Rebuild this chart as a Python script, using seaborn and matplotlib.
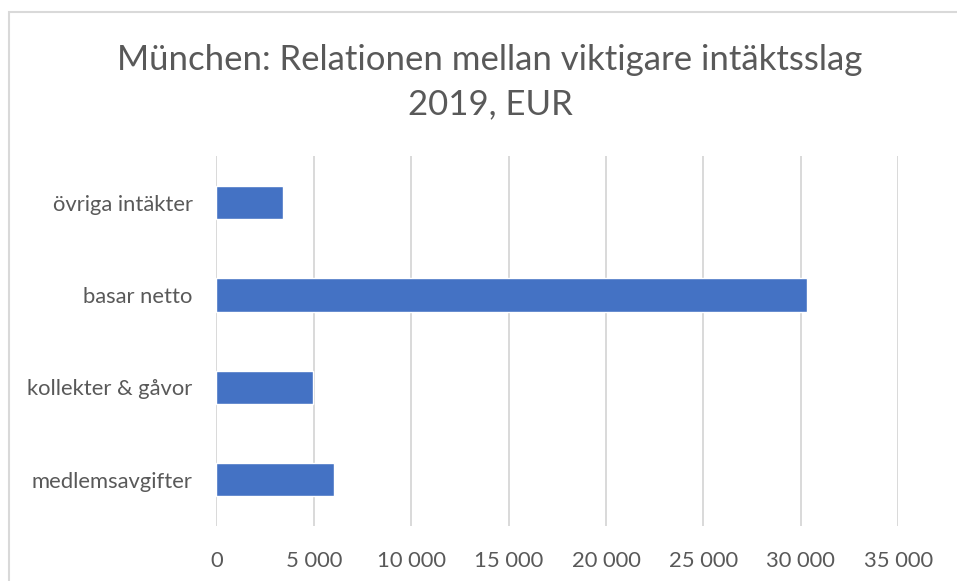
import numpy as np
import pandas as pd
from matplotlib import pyplot as plt
from matplotlib.patches import Rectangle
from matplotlib.ticker import FuncFormatter
import seaborn as sns

categories = ['övriga intäkter', 'basar netto', 'kollekter & gåvor', 'medlemsavgifter']
values = [3410, 30320, 4960, 6040]
x_ticks = [0, 5000, 10000, 15000, 20000, 25000, 30000, 35000]

df = pd.DataFrame({'Intäktsslag': categories, 'EUR': values})

sns.set_style('white')
plt.rcParams['font.family'] = ['Lato', 'DejaVu Sans']

fig = plt.figure(figsize=(9.57, 5.81), dpi=100)
ax = fig.add_axes([0.226, 0.0947, 0.7127, 0.636])

sns.barplot(data=df, y='Intäktsslag', x='EUR', color='#4472c4', saturation=1,
            width=0.36, ax=ax, zorder=3)

ax.set_xlim(0, 35000)
ax.set_xticks(x_ticks)
ax.xaxis.set_major_formatter(FuncFormatter(lambda v, p: f'{int(v):,}'.replace(',', ' ')))
ax.grid(axis='x', color='#d9d9d9', linewidth=1.4, zorder=0)
ax.set_axisbelow(True)
for s in ax.spines.values():
    s.set_visible(False)
ax.tick_params(axis='both', length=0, labelsize=15.8, labelcolor='#595959')
ax.tick_params(axis='y', pad=17)
ax.tick_params(axis='x', pad=18)
ax.set_xlabel('')
ax.set_ylabel('')

fig.text(0.512, 0.859, 'München: Relationen mellan viktigare intäktsslag\n2019, EUR',
         ha='center', va='center', fontsize=25, color='#595959', linespacing=1.48)

# ram runt diagrammet
fig.patches.append(Rectangle((9 / 957, -0.05), 1.2, 1 - 12 / 581 + 0.05,
                             transform=fig.transFigure, fill=False,
                             edgecolor='#d9d9d9', linewidth=1.5))

fig.savefig('out.png', dpi=100)
